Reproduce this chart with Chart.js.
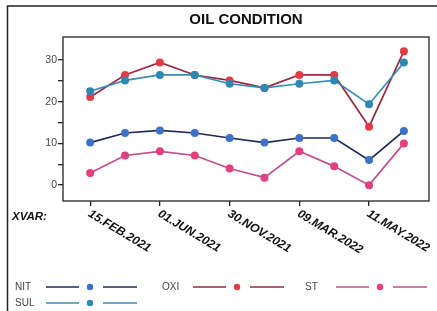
<!DOCTYPE html>
<html>
<head>
<meta charset="utf-8">
<script src="https://cdn.jsdelivr.net/npm/chart.js@4/dist/chart.umd.min.js"></script>
<style>
  html, body { margin: 0; padding: 0; background: #fff; }
  #wrap { position: relative; width: 437px; height: 311px; overflow: hidden; }
  canvas { position: absolute; left: 0; top: 0; }
</style>
</head>
<body>
<div id="wrap"><canvas id="chart" width="437" height="311"></canvas></div>
<script>
// DATA
const dates = ["15.FEB.2021","","01.JUN.2021","","30.NOV.2021","","09.MAR.2022","","11.MAY.2022",""];
const nit = [10.2, 12.5, 13.1, 12.5, 11.3, 10.2, 11.3, 11.3, 6.0, 13.0];
const sul = [22.5, 25.1, 26.4, 26.4, 24.3, 23.3, 24.3, 25.1, 19.4, 29.4];
const oxi = [21.1, 26.4, 29.4, 26.4, 25.1, 23.3, 26.4, 26.4, 14.0, 32.1];
const st  = [2.9, 7.1, 8.1, 7.1, 4.0, 1.8, 8.1, 4.5, 0, 10.0];
const yTicks = [0, 5, 10, 15, 20, 25, 30];

const FONT = "'Liberation Sans', Arial, sans-serif";

function pts(arr){ return arr.map((v,i)=>({x:i, y:v})); }

function ds(label, data, line, dot){
    return {
        label, data: pts(data),
        borderColor: line, backgroundColor: dot,
        pointBackgroundColor: dot, pointBorderColor: dot,
        pointRadius: 4, pointBorderWidth: 0, borderWidth: 1.7,
        tension: 0
    };
}

// LEGEND, TITLE, FRAME, X LABELS
const extras = {
    id: 'extras',
    afterDraw(chart){
        const ctx = chart.ctx;
        const a = chart.chartArea;
        const xs = chart.scales.x;
        ctx.save();

        // outer frame
        ctx.strokeStyle = '#222';
        ctx.lineWidth = 1.5;
        ctx.strokeRect(7.5, 6, 460, 340);

        // plot box
        ctx.lineWidth = 1.3;
        ctx.strokeRect(a.left, a.top, a.right - a.left, a.bottom - a.top);

        // title
        ctx.fillStyle = '#111';
        ctx.font = 'bold 15px ' + FONT;
        ctx.textAlign = 'center';
        ctx.textBaseline = 'middle';
        ctx.fillText('OIL CONDITION', (a.left + a.right)/2, 20);

        // XVAR:
        ctx.font = 'italic bold 11.5px ' + FONT;
        ctx.textAlign = 'left';
        ctx.fillText('XVAR:', 12, 217);

        // rotated date labels
        ctx.font = 'italic bold 12px ' + FONT;
        dates.forEach((d,i)=>{
            if(!d) return;
            const px = xs.getPixelForValue(i);
            ctx.save();
            ctx.translate(px - 1, a.bottom + 12);
            ctx.rotate(31 * Math.PI/180);
            ctx.textAlign = 'left';
            ctx.textBaseline = 'middle';
            ctx.fillText(d, 0, 0);
            ctx.restore();
        });

        // legend
        const items = [
            {i:0, x:15, y:287},
            {i:2, x:162, y:287},
            {i:3, x:305, y:287},
            {i:1, x:15, y:303}
        ];
        items.forEach(it=>{
            const d = chart.data.datasets[it.i];
            ctx.font = '10px ' + FONT;
            ctx.fillStyle = '#444';
            ctx.textAlign = 'left';
            ctx.textBaseline = 'middle';
            ctx.fillText(d.label, it.x, it.y);
            const l0 = it.x + 31;
            ctx.strokeStyle = d.borderColor;
            ctx.lineWidth = 1.6;
            ctx.beginPath();
            ctx.moveTo(l0, it.y); ctx.lineTo(l0 + 33, it.y);
            ctx.moveTo(l0 + 57, it.y); ctx.lineTo(l0 + 91, it.y);
            ctx.stroke();
            ctx.fillStyle = d.pointBackgroundColor;
            ctx.beginPath();
            ctx.arc(l0 + 44, it.y, 3.2, 0, Math.PI*2);
            ctx.fill();
        });
        ctx.restore();
    }
};

new Chart(document.getElementById('chart'), {
    type: 'line',
    data: {
        datasets: [
            ds('NIT', nit, '#1e2b55', '#3d70c6'),
            ds('SUL', sul, '#3a8cb4', '#2e88b0'),
            ds('OXI', oxi, '#9b2a40', '#e23b47'),
            ds('ST',  st,  '#c24f8c', '#e23e80')
        ]
    },
    options: {
        responsive: false,
        animation: false,
        layout: { padding: { left: 0, top: 37, right: 8, bottom: 0 } },
        plugins: { legend: { display: false }, title: { display: false }, tooltip: { enabled: false } },
        scales: {
            x: {
                type: 'linear', min: -0.78, max: 9.72,
                afterBuildTicks: s => { s.ticks = [0,2,4,6,8].map(v=>({value:v})); },
                afterFit: s => { s.height = 110; },
                ticks: { display: false },
                grid: { drawOnChartArea: false, drawTicks: true, tickLength: 5, color: '#222', lineWidth: 1.3 },
                border: { display: false }
            },
            y: {
                min: -3.8, max: 35.5,
                afterBuildTicks: s => { s.ticks = yTicks.map(v=>({value:v})); },
                afterFit: s => { s.width = 63; },
                ticks: {
                    padding: 1,
                    color: '#444',
                    font: { family: FONT, size: 10.5 },
                    callback: v => v % 10 === 0 ? String(v) : ''
                },
                grid: { drawOnChartArea: false, drawTicks: true, tickLength: 5, color: '#222', lineWidth: 1.3 },
                border: { display: false }
            }
        }
    },
    plugins: [extras]
});
</script>
</body>
</html>
